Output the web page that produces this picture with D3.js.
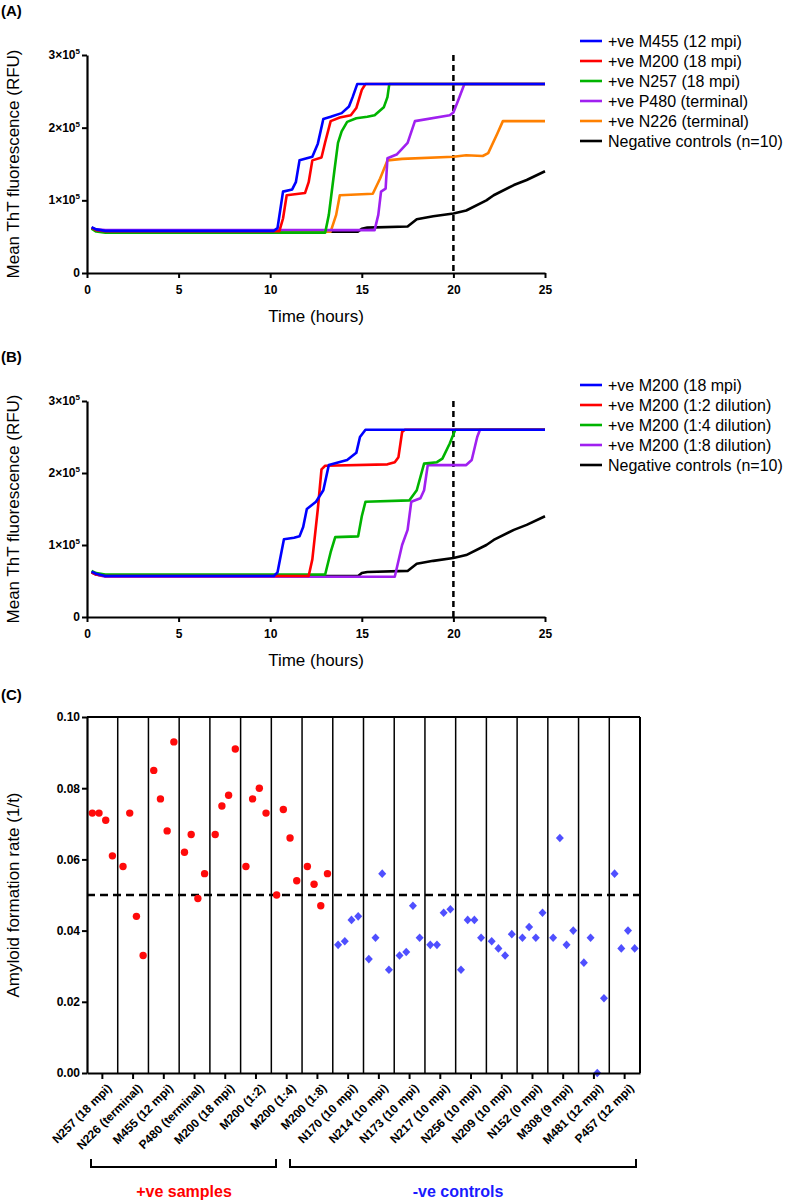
<!DOCTYPE html>
<html><head><meta charset="utf-8">
<script src="https://cdn.jsdelivr.net/npm/d3@7"></script>
<style>
body{margin:0;background:#fff;}
svg{display:block;font-family:"Liberation Sans",Arial,sans-serif;}
</style></head>
<body>
<script>
// ---------------- DATA ----------------
// Panel A series: [time (h), mean ThT fluorescence (x1000 RFU)]
const seriesA_names = ["+ve M455 (12 mpi)","+ve M200 (18 mpi)","+ve N257 (18 mpi)","+ve P480 (terminal)","+ve N226 (terminal)","Negative controls (n=10)"];
const A_M455 = [[0.25,63],[0.5,60],[1,58],[10.2,58],[10.4,62],[10.7,112],[11.2,115],[11.4,125],[11.6,155],[12.3,160],[12.6,178],[12.9,212],[13.3,215],[13.9,220],[14.3,229],[14.5,242],[14.75,260],[25,260]];
const A_M200 = [[0.25,62],[0.5,59],[1,57.5],[10.5,57.5],[10.7,75],[10.9,107],[11.9,110],[12.1,125],[12.3,155],[12.8,159],[13.0,180],[13.3,209],[13.8,214],[14.4,217],[14.7,227],[15.0,252],[15.2,260],[25,260]];
const A_N257 = [[0.25,61],[0.5,57],[1,55.5],[13.0,55.5],[13.2,80],[13.5,140],[13.7,179],[13.9,195],[14.2,208],[14.7,213],[15.3,215],[15.7,217],[16.2,228],[16.4,242],[16.5,260],[25,260]];
const A_P480 = [[0.25,62],[0.5,60],[1,59],[15.7,59],[15.9,80],[16.05,112],[16.3,116],[16.4,158],[16.9,163],[17.5,179],[17.9,209],[19.8,217],[20.0,221],[20.3,240],[20.6,260],[25,260]];
const A_N226 = [[0.25,62],[0.5,59],[1,57],[13.3,57],[13.6,80],[13.8,107],[15.6,109],[16.0,130],[16.4,155],[17.2,157],[20.0,160],[20.7,162],[21.6,161],[21.9,165],[22.4,192],[22.7,209],[25,209]];
const NEG = [[0.25,62],[0.5,59],[1,57],[14.8,57],[15.0,61],[15.3,62.5],[17.5,64],[18.0,74],[18.9,78],[20.0,82],[20.7,86],[21.8,100],[22.2,107],[23.3,121],[24.0,128],[25,140]];
// Panel B series
const seriesB_names = ["+ve M200 (18 mpi)","+ve M200 (1:2 dilution)","+ve M200 (1:4 dilution)","+ve M200 (1:8 dilution)","Negative controls (n=10)"];
const B_M200 = [[0.25,63],[0.5,60],[1,57],[10.2,57],[10.4,62],[10.75,108],[11.3,110],[11.6,112],[11.8,125],[12.0,150],[12.5,160],[12.9,176],[13.2,211],[14.2,218],[14.7,228],[14.9,250],[15.2,260],[25,260]];
const B_D2 = [[0.25,62],[0.5,59],[1,57],[12.1,57],[12.3,80],[12.6,150],[12.8,205],[13.0,210],[16.4,212],[16.8,215],[17.0,222],[17.2,257],[17.35,260],[25,260]];
const B_D4 = [[0.25,64],[0.5,61],[1,59],[13.0,59],[13.3,90],[13.55,111],[14.8,112],[15.0,140],[15.2,160],[17.6,162],[18.0,176],[18.4,213],[19.1,215],[19.4,220],[19.8,241],[20.1,260],[25,260]];
const B_D8 = [[0.25,62],[0.5,59],[1,56],[16.8,56],[17.2,100],[17.5,121],[17.7,160],[18.2,165],[18.4,176],[18.6,211],[20.7,211],[21.0,218],[21.3,250],[21.45,260],[25,260]];
const xTicksAB = [0,5,10,15,20,25];
const yTicksAB = [0,100,200,300];
const yTickLabelsAB = ["0","1×10","2×10","3×10"];
const cutoffTime = 20;

// Panel C
const categories = ["N257 (18 mpi)","N226 (terminal)","M455 (12 mpi)","P480 (terminal)","M200 (18 mpi)","M200 (1:2)","M200 (1:4)","M200 (1:8)","N170 (10 mpi)","N214 (10 mpi)","N173 (10 mpi)","N217 (10 mpi)","N256 (10 mpi)","N209 (10 mpi)","N152 (0 mpi)","M308 (9 mpi)","M481 (12 mpi)","P457 (12 mpi)"];
const rates = [
 [0.073,0.073,0.071,0.061],
 [0.058,0.073,0.044,0.033],
 [0.085,0.077,0.068,0.093],
 [0.062,0.067,0.049,0.056],
 [0.067,0.075,0.078,0.091],
 [0.058,0.077,0.080,0.073],
 [0.050,0.074,0.066,0.054],
 [0.058,0.053,0.047,0.056],
 [0.036,0.037,0.043,0.044],
 [0.032,0.038,0.056,0.029],
 [0.033,0.034,0.047,0.038],
 [0.036,0.036,0.045,0.046],
 [0.029,0.043,0.043,0.038],
 [0.037,0.035,0.033,0.039],
 [0.038,0.041,0.038,0.045],
 [0.038,0.066,0.036,0.040],
 [0.031,0.038,0.000,0.021],
 [0.056,0.035,0.040,0.035]
];
const groupPositive = [true,true,true,true,true,true,true,true,false,false,false,false,false,false,false,false,false,false];
const yTicksC = [0,0.02,0.04,0.06,0.08,0.10];
const rateCutoff = 0.05;

// ---------------- DRAW ----------------
const svg = d3.select("body").append("svg").attr("width",800).attr("height",1201);
const BLUE="#0000ff", RED="#ff0000", GREEN="#00b400", PURPLE="#a020f0", ORANGE="#ff8000", BLACK="#000";

function panel(label, yTop, yZero, series, names, colors, legendY){
  const x = d3.scaleLinear().domain([0,25]).range([87,545]);
  const y = d3.scaleLinear().domain([0,300]).range([yZero,yTop]);
  const g = svg.append("g");
  svg.append("text").attr("x",1).attr("y",yTop-39).attr("font-size",15).attr("font-weight","bold").text(label);
  svg.append("text").attr("transform",`translate(19,${(yTop+yZero)/2}) rotate(-90)`).attr("text-anchor","middle")
    .attr("font-size",17).text("Mean ThT fluorescence (RFU)");
  svg.append("text").attr("x",316).attr("y",yZero+32+17).attr("text-anchor","middle").attr("font-size",17).text("Time (hours)");
  g.append("line").attr("x1",x(cutoffTime)).attr("x2",x(cutoffTime)).attr("y1",y(300)).attr("y2",y(0))
    .attr("stroke","#000").attr("stroke-width",2.5).attr("stroke-dasharray","6,4");
  const line = d3.line().x(d=>x(d[0])).y(d=>y(d[1]));
  for(let i=series.length-1;i>=0;i--){
    g.append("path").attr("d",line(series[i])).attr("fill","none").attr("stroke",colors[i])
      .attr("stroke-width",2.6).attr("stroke-linejoin","round");
  }
  const xa = d3.axisBottom(x).tickValues(xTicksAB).tickSize(5).tickSizeOuter(0).tickFormat(d3.format("d"));
  const ax = g.append("g").attr("transform",`translate(0,${yZero})`).call(xa);
  ax.select(".domain").attr("stroke-width",2.2);
  ax.selectAll(".tick line").attr("stroke-width",2);
  ax.selectAll("text").attr("font-size",12).attr("font-weight","bold").attr("font-family","Liberation Sans, Arial, sans-serif").attr("dy","1.1em").attr("fill","#000");
  const ya = d3.axisLeft(y).tickValues(yTicksAB).tickSize(5).tickSizeOuter(0).tickFormat(()=>"");
  const ay = g.append("g").attr("transform",`translate(87,0)`).call(ya);
  ay.select(".domain").attr("stroke-width",2.2);
  ay.selectAll(".tick line").attr("stroke-width",2);
  yTicksAB.forEach((v,i)=>{
    const t = g.append("text").attr("x",80).attr("y",y(v)+4).attr("text-anchor","end")
      .attr("font-size",12).attr("font-weight","bold");
    if(v===0){t.text("0");}
    else{
      t.append("tspan").text(yTickLabelsAB[i]);
      t.append("tspan").attr("dy",-5).attr("font-size",8).text("5");
    }
  });
  names.forEach((n,i)=>{
    const ly = legendY + i*20;
    svg.append("line").attr("x1",580).attr("x2",602).attr("y1",ly).attr("y2",ly).attr("stroke",colors[i]).attr("stroke-width",2.6);
    svg.append("text").attr("x",608).attr("y",ly+5.5).attr("font-size",16).text(n);
  });
}

panel("(A)", 55, 273, [A_M455,A_M200,A_N257,A_P480,A_N226,NEG], seriesA_names, [BLUE,RED,GREEN,PURPLE,ORANGE,BLACK], 41);
panel("(B)", 401, 617, [B_M200,B_D2,B_D4,B_D8,NEG], seriesB_names, [BLUE,RED,GREEN,PURPLE,BLACK], 385);

// ---------------- PANEL C ----------------
(function(){
  const x = d3.scaleBand().domain(categories).range([87,640]).paddingInner(0).paddingOuter(0);
  const y = d3.scaleLinear().domain([0,0.10]).range([1073,717]);
  const g = svg.append("g");
  svg.append("text").attr("x",1).attr("y",700).attr("font-size",15).attr("font-weight","bold").text("(C)");
  svg.append("text").attr("transform",`translate(19,895) rotate(-90)`).attr("text-anchor","middle")
    .attr("font-size",17).text("Amyloid formation rate (1/t)");
  g.append("line").attr("x1",87).attr("x2",640).attr("y1",y(0.10)).attr("y2",y(0.10)).attr("stroke","#000").attr("stroke-width",2);
  categories.forEach((c,i)=>{
    const xr = x(c)+x.bandwidth();
    g.append("line").attr("x1",xr).attr("x2",xr).attr("y1",y(0.10)).attr("y2",y(0))
      .attr("stroke","#000").attr("stroke-width", i===categories.length-1?2:1.5);
  });
  g.append("line").attr("x1",87).attr("x2",640).attr("y1",y(rateCutoff)).attr("y2",y(rateCutoff))
    .attr("stroke","#000").attr("stroke-width",2.5).attr("stroke-dasharray","8,5");
  categories.forEach((c,i)=>{
    const cx0 = x(c)+x.bandwidth()/2;
    rates[i].forEach((v,j)=>{
      const px = cx0 + (j-1.5)*6.7, py = y(v);
      if(groupPositive[i]){
        g.append("circle").attr("cx",px).attr("cy",py).attr("r",3.7).attr("fill","#ff0a0a");
      } else {
        g.append("path").attr("d",`M${px},${py-4.3}L${px+4},${py}L${px},${py+4.3}L${px-4},${py}Z`).attr("fill","#4f4fff");
      }
    });
  });
  const xa = d3.axisBottom(x).tickSize(6).tickSizeOuter(0).tickFormat("");
  const ax = g.append("g").attr("transform",`translate(0,${y(0)})`).call(xa);
  ax.select(".domain").attr("stroke-width",2.2);
  ax.selectAll(".tick line").attr("stroke-width",2);
  categories.forEach(c=>{
    const tx = x(c)+x.bandwidth()/2;
    g.append("text").attr("transform",`translate(${tx+4},${y(0)+10}) rotate(-45)`).attr("text-anchor","end")
      .attr("dy","0.7em").attr("font-size",12).attr("font-weight","bold").text(c);
  });
  const ya = d3.axisLeft(y).tickValues(yTicksC).tickSize(5).tickSizeOuter(0).tickFormat(d3.format(".2f"));
  const ay = g.append("g").attr("transform","translate(87,0)").call(ya);
  ay.select(".domain").attr("stroke-width",2.2);
  ay.selectAll(".tick line").attr("stroke-width",2);
  ay.selectAll("text").attr("font-size",12).attr("font-weight","bold").attr("font-family","Liberation Sans, Arial, sans-serif").attr("fill","#000").attr("x",-7);
  const br = (x1,x2,yb)=>{
    g.append("path").attr("d",`M${x1},${yb-8}V${yb}H${x2}V${yb-8}`).attr("fill","none").attr("stroke","#000").attr("stroke-width",2);
  };
  br(91,276,1167); br(290,636,1167);
  g.append("text").attr("x",184).attr("y",1197).attr("text-anchor","middle").attr("font-size",16).attr("font-weight","bold").attr("fill","#ff0000").text("+ve samples");
  g.append("text").attr("x",458).attr("y",1197).attr("text-anchor","middle").attr("font-size",16).attr("font-weight","bold").attr("fill","#1a1aff").text("-ve controls");
})();
</script>
</body></html>
